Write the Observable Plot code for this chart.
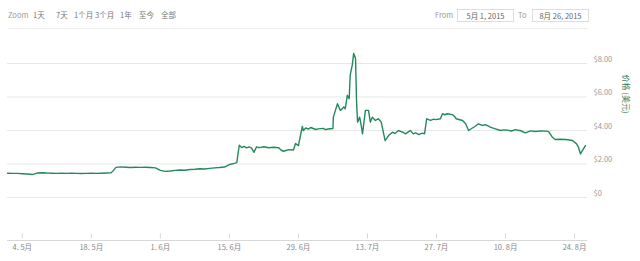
<!DOCTYPE html>
<html><head><meta charset="utf-8">
<script src="https://cdn.jsdelivr.net/npm/d3@7"></script>
<script src="https://cdn.jsdelivr.net/npm/@observablehq/plot@0.6"></script>
<style>
body{margin:0;background:#fff;font-family:"Noto Sans CJK SC","Noto Sans",sans-serif;}
#wrap{position:relative;width:640px;height:261px;overflow:hidden;background:#fff}
.t{position:absolute;top:8px;font-size:7.5px;color:#777;white-space:nowrap;line-height:13px}
.box{position:absolute;top:9px;height:11px;border:1px solid #ddd;font-size:7.5px;color:#666;line-height:11px;text-align:center;white-space:nowrap}
#sep{position:absolute;left:8px;top:28px;width:580px;height:1px;background:#eee}
#chart{position:absolute;left:0;top:30px}
</style></head>
<body><div id="wrap">
<div id="bar"></div>
<div id="sep"></div>
<div id="chart"></div>
</div>
<script>
// ---- data ----
const zoomButtons = ["Zoom","1天","7天","1个月","3个月","1年","至今","全部"];
const fromLabel = "From", toLabel = "To";
const fromValue = "5月 1, 2015", toValue = "8月 26, 2015";
const yTitle = "价格 (美元)";

const dates = [
 "05-01","05-02","05-03","05-04","05-05","05-06","05-07","05-08","05-09","05-10",
 "05-11","05-12","05-13","05-14","05-15","05-16","05-17","05-18","05-19","05-20",
 "05-21","05-22","05-22T12","05-23","05-24","05-25","05-26","05-27","05-28","05-29",
 "05-30","05-31","06-01","06-02","06-03","06-04","06-05","06-06","06-07","06-08",
 "06-09","06-10","06-11","06-12","06-13","06-14","06-15","06-16","06-16T12","06-17",
 "06-17T12","06-18","06-18T12","06-19","06-19T12","06-20","06-20T12","06-21","06-22","06-23",
 "06-24","06-25","06-25T12","06-26","06-27","06-28","06-28T10","06-29","06-29T19","06-30",
 "06-30T12","07-01","07-01T12","07-02","07-02T12","07-03","07-04","07-04T12","07-05","07-06",
 "07-06T02","07-06T22","07-07T12","07-08T05","07-08T12","07-08T22","07-09T07","07-09T12","07-09T22","07-10T05",
 "07-10T14","07-10T19","07-11","07-11T10","07-11T19","07-12","07-12T14","07-13T05","07-13T14","07-14",
 "07-14T14","07-15T05","07-15T19","07-16T14","07-17T07","07-18T02","07-18T14","07-19T07","07-19T17","07-20T07",
 "07-20T17","07-21T07","07-21T17","07-22T07","07-22T19","07-23T10","07-23T17","07-24T05","07-24T14","07-25",
 "07-25T19","07-26T10","07-26T19","07-27T19","07-28T05","07-28T17","07-29T05","07-30T05","07-30T17","07-31",
 "08-01T07","08-01T22","08-02T12","08-03T07","08-03T19","08-04T12","08-05T07","08-05T22","08-06T22","08-07T12",
 "08-07T23","08-09","08-09T17","08-10T10","08-11T05","08-12","08-12T17","08-13","08-14","08-15T02",
 "08-16T02","08-17T02","08-18T02","08-18T17","08-19T12","08-20T02","08-21T02","08-22T05","08-23T14","08-24T10",
 "08-24T19","08-25T05","08-25T14","08-26T05"
];
const prices = [
 1.45,1.44,1.44,1.42,1.40,1.37,1.46,1.48,1.46,1.45,
 1.44,1.45,1.44,1.45,1.44,1.43,1.44,1.45,1.44,1.45,
 1.46,1.47,1.62,1.80,1.83,1.81,1.79,1.81,1.80,1.81,
 1.79,1.77,1.62,1.56,1.58,1.62,1.64,1.63,1.67,1.69,
 1.72,1.70,1.74,1.77,1.79,1.82,1.97,2.04,2.08,3.12,
 2.98,3.05,2.96,3.02,2.95,2.70,3.02,2.98,3.03,2.97,
 3.00,2.97,2.82,2.76,2.86,2.84,3.22,3.10,4.24,4.00,
 4.15,4.08,4.18,4.12,4.06,4.10,4.13,4.05,4.09,4.12,
 4.80,5.60,5.20,5.40,5.30,6.10,5.90,7.30,7.90,8.60,
 8.30,5.70,4.50,4.80,4.20,3.80,5.20,5.20,4.50,4.80,
 4.60,4.70,4.50,3.40,3.70,3.90,3.82,4.00,3.95,3.88,
 3.80,3.92,4.00,3.80,3.86,3.76,3.80,3.84,3.80,4.70,
 4.60,4.68,4.65,4.70,5.00,4.94,5.00,4.95,4.82,4.70,
 4.60,4.40,4.00,4.15,4.24,4.40,4.30,4.35,4.20,4.14,
 4.10,4.00,4.04,4.02,3.97,4.05,4.00,4.00,3.86,3.98,
 3.94,3.98,3.96,3.95,3.60,3.46,3.48,3.46,3.40,3.20,
 3.00,2.60,2.80,3.10
];
const xTickDates = ["05-04","05-18","06-01","06-15","06-29","07-13","07-27","08-10","08-24"];
const xTickLabels = ["4. 5月","18. 5月","1. 6月","15. 6月","29. 6月","13. 7月","27. 7月","10. 8月","24. 8月"];
const yTicks = [0,2,4,6,8];
const yTickLabels = ["$0","$2.00","$4.00","$6.00","$8.00"];

// ---- build ----
const parse = s => new Date("2015-" + s + (s.includes("T") ? ":00" : "T00:00"));
const data = dates.map((d,i)=>({date: parse(d), price: prices[i]}));
const xTicks = xTickDates.map(parse);
const xLabelMap = new Map(xTicks.map((d,i)=>[+d, xTickLabels[i]]));
const yLabelMap = new Map(yTicks.map((v,i)=>[v, yTickLabels[i]]));

// toolbar
const bar = document.getElementById("bar");
const zoomX = [8,33,56,74,95,120,139,161];
zoomButtons.forEach((t,i)=>{
  const s = document.createElement("span"); s.className="t"; s.textContent=t;
  s.style.left = zoomX[i]+"px"; if(i===0) s.style.color="#999"; bar.appendChild(s);
});
[[fromLabel,435],[toLabel,518]].forEach(([t,x])=>{
  const s=document.createElement("span"); s.className="t"; s.textContent=t; s.style.left=x+"px"; s.style.color="#999"; bar.appendChild(s);
});
[[fromValue,457,55],[toValue,532,55]].forEach(([t,x,w])=>{
  const s=document.createElement("span"); s.className="box"; s.textContent=t; s.style.left=x+"px"; s.style.width=w+"px"; bar.appendChild(s);
});

const yMin = -2.567, yMax = 9.373;
const chart = Plot.plot({
  width: 640, height: 231,
  marginTop: 10, marginBottom: 21, marginLeft: 7, marginRight: 53,
  x: {type: "time", domain: [parse("05-01"), parse("08-26T15")]},
  y: {domain: [yMin, yMax]},
  style: {fontFamily: '"Noto Sans CJK SC","Noto Sans",sans-serif', fontSize: "7.5px", background: "#fff", color: "#888"},
  marks: [
    Plot.gridY(yTicks, {stroke: "#e8e8e8", strokeOpacity: 1}),
    Plot.ruleY([yMin], {stroke: "#d8d8d8"}),
    Plot.ruleX(xTicks, {y1: yMin + 0.1, y2: yMin + 0.4, stroke: "#d8d8d8"}),
    Plot.axisX(xTicks, {tickSize: 0, tickPadding: 4, tickFormat: d => xLabelMap.get(+d), fill: "#888", label: null}),
    Plot.axisY(yTicks, {anchor: "right", tickSize: 0, tickPadding: 6, dy: -4, tickFormat: v => yLabelMap.get(v), fill: "#999", label: null}),
    Plot.line(data, {x: "date", y: "price", stroke: "#23895c", strokeWidth: 1.4}),
    Plot.text([{t: yTitle, v: 5}], {text: "t", y: "v", frameAnchor: "right", dx: 38, rotate: 90, fill: "#3d7a5c", fontSize: 8})
  ]
});
document.getElementById("chart").appendChild(chart);
</script>
</body></html>
